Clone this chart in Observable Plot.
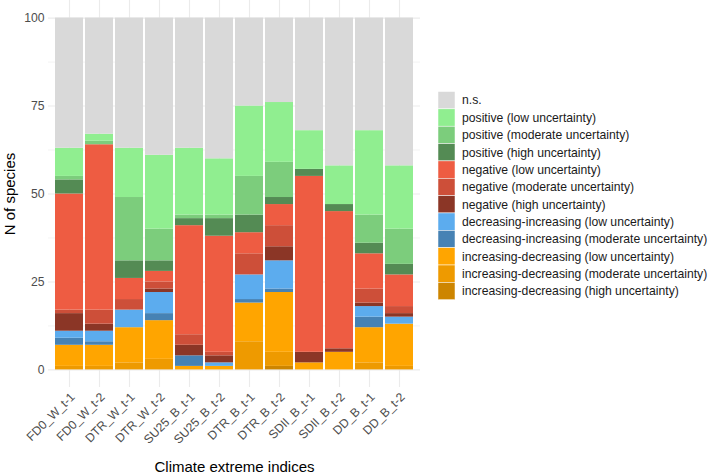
<!DOCTYPE html>
<html><head><meta charset="utf-8">
<script src="https://cdn.jsdelivr.net/npm/d3@7"></script>
<script src="https://cdn.jsdelivr.net/npm/@observablehq/plot@0.6"></script>
<style>
body{margin:0;background:#fff;}
#chart{position:relative;width:708px;height:476px;}
</style>
</head><body><div id="chart"></div>
<script>
const categories = ["FD0_W_t-1","FD0_W_t-2","DTR_W_t-1","DTR_W_t-2","SU25_B_t-1","SU25_B_t-2","DTR_B_t-1","DTR_B_t-2","SDII_B_t-1","SDII_B_t-2","DD_B_t-1","DD_B_t-2"];
const seriesNames = [
  "n.s.",
  "positive (low uncertainty)",
  "positive (moderate uncertainty)",
  "positive (high uncertainty)",
  "negative (low uncertainty)",
  "negative (moderate uncertainty)",
  "negative (high uncertainty)",
  "decreasing-increasing (low uncertainty)",
  "decreasing-increasing (moderate uncertainty)",
  "increasing-decreasing (low uncertainty)",
  "increasing-decreasing (moderate uncertainty)",
  "increasing-decreasing (high uncertainty)"
];
const seriesColors = ["#d9d9d9","#90ee90","#7ccd7c","#548b54","#ee5c42","#cd4f39","#8b3626","#5cacee","#4682b4","#ffa500","#ee9a00","#cd8500"];

const nsValues        = [37,33,37,39,37,40,25,24,32,42,32,42];
const posLow          = [8,2,14,21,19,16,20,17,11,11,24,18];
const posModerate     = [1,1,18,9,1,1,11,10,0,0,8,10];
const posHigh         = [4,0,5,3,2,5,5,2,2,2,3,3];
const negLow          = [33,47,6,3,31,33,6,6,50,39,10,9];
const negModerate     = [1,4,3,2,3,1,6,6,0,0,4,2];
const negHigh         = [5,2,0,1,3,2,0,4,3,1,1,1];
const decIncLow       = [2,3,5,6,0,1,7,8,0,0,3,2];
const decIncModerate  = [2,1,0,2,3,0,1,1,0,0,3,0];
const incDecLow       = [6,6,10,11,1,1,11,17,2,5,10,12];
const incDecModerate  = [1,1,2,3,0,0,8,4,0,0,2,1];
const incDecHigh      = [0,0,0,0,0,0,0,1,0,0,0,0];

const yTicks = [0,25,50,75,100];
const yMinorTicks = [12.5,37.5,62.5,87.5];

const seriesValues = [nsValues,posLow,posModerate,posHigh,negLow,negModerate,negHigh,decIncLow,decIncModerate,incDecLow,incDecModerate,incDecHigh];

// stack from the bottom (last legend entry) to the top (first legend entry)
const table = [];
for (let s = seriesNames.length - 1; s >= 0; s--) {
  categories.forEach((c, i) => table.push({category: c, series: seriesNames[s], n: seriesValues[s][i]}));
}

const font = "'Liberation Sans', Arial, Helvetica, sans-serif";
const W = 708, H = 476;

const chart = Plot.plot({
  width: W, height: H,
  marginLeft: 48, marginRight: 288, marginTop: 0, marginBottom: 89,
  style: {fontFamily: font, background: "#fff", overflow: "visible"},
  x: {domain: categories, range: [51.05, 416.95], paddingInner: 0.06, paddingOuter: 0.03, label: null, axis: null},
  y: {domain: [-5, 105], label: null, axis: null},
  color: {domain: seriesNames, range: seriesColors},
  marks: [
    Plot.gridY(yMinorTicks, {stroke: "#ebebeb", strokeOpacity: 1, strokeWidth: 0.6}),
    Plot.gridY(yTicks, {stroke: "#ebebeb", strokeOpacity: 1, strokeWidth: 1.1}),
    Plot.gridX(categories, {stroke: "#ebebeb", strokeOpacity: 1, strokeWidth: 1.1}),
    Plot.barY(table, {x: "category", y: "n", fill: "series", order: null}),
    Plot.axisY(yTicks, {tickSize: 0, tickPadding: 4, fontSize: 12.2, color: "#4d4d4d", label: null}),
    Plot.text(categories, {x: d => d, frameAnchor: "bottom", dy: 4, rotate: -45, textAnchor: "end", lineAnchor: "top", fontSize: 12.2, fill: "#4d4d4d"}),
    Plot.text(["N of species"], {frameAnchor: "left", dx: -38, rotate: -90, textAnchor: "middle", lineAnchor: "middle", fontSize: 15, fill: "#000"}),
    Plot.text(["Climate extreme indices"], {frameAnchor: "bottom", dy: 80, textAnchor: "middle", lineAnchor: "middle", fontSize: 15, fill: "#000"})
  ]
});
document.getElementById("chart").appendChild(chart);

// legend
const svg = d3.select(chart);
const lg = svg.append("g").attr("transform", "translate(438,91.5)").attr("text-anchor", "start");
seriesNames.forEach((name, i) => {
  lg.append("rect").attr("x", 0).attr("y", i * 17.35).attr("width", 17).attr("height", 17.35)
    .attr("fill", seriesColors[i]).attr("stroke", "#fff").attr("stroke-width", 0.5);
  lg.append("text").attr("x", 24).attr("y", i * 17.35 + 8.7).attr("dy", "0.35em")
    .attr("text-anchor", "start")
    .attr("font-family", font).attr("font-size", 12.2).attr("fill", "#1a1a1a").text(name);
});
</script>
</body></html>
